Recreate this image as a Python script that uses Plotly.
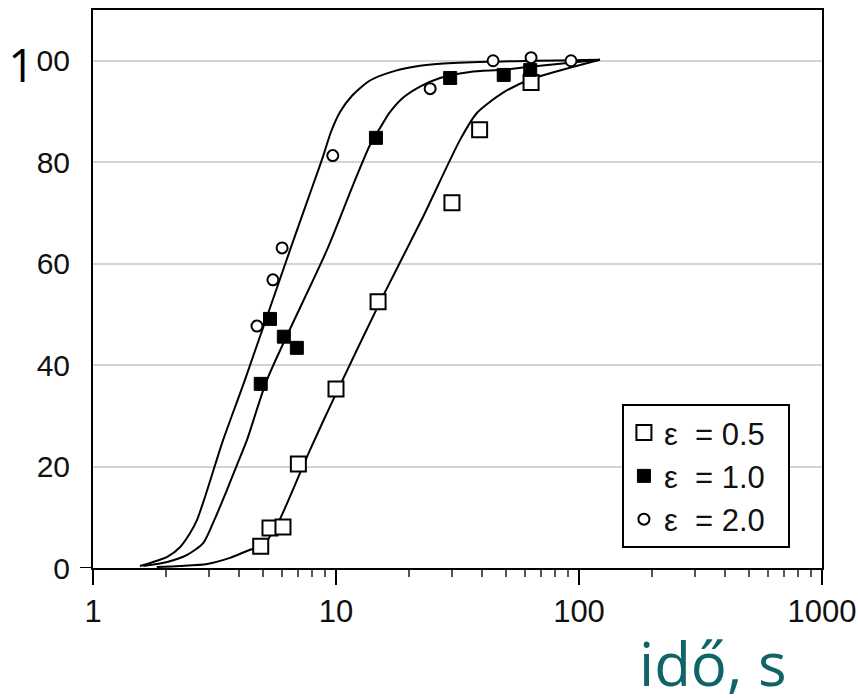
import plotly.graph_objects as go

# ---- measured points ----
t_eps05 = [4.9, 5.35, 6.05, 7.0, 10.0, 14.9, 30.0, 39.0, 63.5]
y_eps05 = [4.3, 7.9, 8.1, 20.5, 35.3, 52.5, 72.0, 86.4, 95.7]

t_eps10 = [4.9, 5.35, 6.1, 6.9, 14.6, 29.5, 49.0, 63.0]
y_eps10 = [36.3, 49.1, 45.6, 43.4, 84.8, 96.6, 97.2, 98.2]

t_eps20 = [4.73, 5.5, 6.0, 9.7, 24.4, 44.3, 63.5, 92.7]
y_eps20 = [47.7, 56.8, 63.1, 81.3, 94.5, 100.0, 100.6, 100.0]

# ---- fitted curves ----
fit_t_20 = [1.56, 1.72, 2.02, 2.28, 2.51, 2.68, 2.89, 3.18, 3.43, 4.22, 6.47, 8.04, 8.84,
            9.54, 10.39, 11.64, 13.8, 17.49, 22.17, 26.8, 41.8, 122.0]
fit_y_20 = [0.4, 1.0, 2.2, 4.1, 6.9, 9.5, 14.0, 20.3, 25.2, 37.1, 62.7, 75.5, 81.1,
            86.0, 89.9, 93.1, 96.1, 98.0, 99.0, 99.4, 99.8, 100.2]

fit_t_10 = [1.61, 2.02, 2.44, 2.84, 3.12, 3.56, 3.91, 4.30, 5.20, 9.18, 11.75, 13.8,
            15.2, 16.7, 18.87, 22.17, 26.8, 35.6, 48.7, 62.9, 122.0]
fit_y_10 = [0.4, 1.2, 2.6, 4.9, 8.9, 15.4, 20.3, 25.2, 37.1, 62.7, 75.5, 83.4,
            86.8, 89.9, 92.7, 94.9, 96.6, 97.8, 98.2, 98.8, 100.2]

fit_t_05 = [1.83, 2.28, 2.95, 3.66, 4.43, 4.96, 5.72, 7.11, 7.82, 9.72, 15.2,
            22.8, 32.4, 38.0, 48.7, 62.9, 122.0]
fit_y_05 = [0.2, 0.4, 0.8, 2.0, 3.6, 4.3, 8.5, 18.7, 23.3, 33.1, 52.5,
            69.2, 84.4, 89.7, 93.7, 96.3, 100.2]

legend_names = ["ε\u00a0 = 0.5\u00a0\u00a0", "ε\u00a0 = 1.0\u00a0\u00a0", "ε\u00a0 = 2.0\u00a0\u00a0"]
x_tickvals = [1, 10, 100, 1000]
x_ticktext = ["1", "10", "100", "1000"]
y_tickvals = [0, 20, 40, 60, 80, 100]
x_minor = [2, 3, 4, 5, 6, 7, 8, 9, 20, 30, 40, 50, 60, 70, 80, 90,
           200, 300, 400, 500, 600, 700, 800, 900]

TICKFONT = "Liberation Sans Narrow, Liberation Sans, Arial, sans-serif"

fig = go.Figure()
for ft, fy in [(fit_t_20, fit_y_20), (fit_t_10, fit_y_10), (fit_t_05, fit_y_05)]:
    fig.add_trace(go.Scatter(x=ft, y=fy, mode="lines", showlegend=False,
                             line=dict(color="black", width=2, shape="spline", smoothing=0.7),
                             hoverinfo="skip"))

fig.add_trace(go.Scatter(x=t_eps05, y=y_eps05, mode="markers", name=legend_names[0],
                         marker=dict(symbol="square", size=15, color="white",
                                     line=dict(color="black", width=2))))
fig.add_trace(go.Scatter(x=t_eps10, y=y_eps10, mode="markers", name=legend_names[1],
                         marker=dict(symbol="square", size=13, color="black",
                                     line=dict(color="black", width=1))))
fig.add_trace(go.Scatter(x=t_eps20, y=y_eps20, mode="markers", name=legend_names[2],
                         marker=dict(symbol="circle", size=11, color="white",
                                     line=dict(color="black", width=2))))

fig.update_xaxes(type="log", range=[0, 3], tickvals=x_tickvals, ticktext=x_ticktext,
                 ticks="outside", ticklen=15, tickwidth=2, tickcolor="black",
                 showline=True, linewidth=2, linecolor="black", mirror=True,
                 showgrid=False, zeroline=False, automargin=False,
                 tickfont=dict(family=TICKFONT, size=31, color="#111"),
                 minor=dict(tickmode="array", tickvals=x_minor, ticks="outside",
                            ticklen=7, tickwidth=2, tickcolor="#555", showgrid=False))
fig.update_yaxes(range=[0, 110], tickvals=y_tickvals, ticks="",
                 showline=True, linewidth=2, linecolor="black", mirror=True,
                 showgrid=True, gridcolor="#d4d4d4", gridwidth=2, zeroline=False,
                 automargin=False, ticklabelstandoff=15,
                 tickfont=dict(family=TICKFONT, size=30, color="#111"))

fig.add_shape(type="line", xref="paper", yref="y", x0=-13 / 729, x1=0, y0=0, y1=0,
              line=dict(color="black", width=2))

fig.add_annotation(xref="paper", yref="y", x=(36 - 93) / 729, y=100, text="1",
                   showarrow=False, width=27, borderpad=0, yshift=-3,
                   font=dict(family="Open Sans, sans-serif", size=46, color="black"),
                   bgcolor="white", xanchor="right", yanchor="middle")
fig.add_annotation(xref="paper", yref="paper", x=0.851, y=-0.17, text="idő, s",
                   showarrow=False,
                   font=dict(family="Open Sans, sans-serif", size=60, color="#0e6466"),
                   xanchor="center", yanchor="middle")

fig.update_layout(
    width=858, height=698,
    margin=dict(l=93, r=36, t=10, b=130),
    paper_bgcolor="white", plot_bgcolor="white",
    legend=dict(x=0.956, xanchor="right", y=0.036, yanchor="bottom",
                bgcolor="white", bordercolor="black", borderwidth=2,
                font=dict(family=TICKFONT, size=31, color="#111"),
                tracegroupgap=0),
)

fig.write_html("out.html")
